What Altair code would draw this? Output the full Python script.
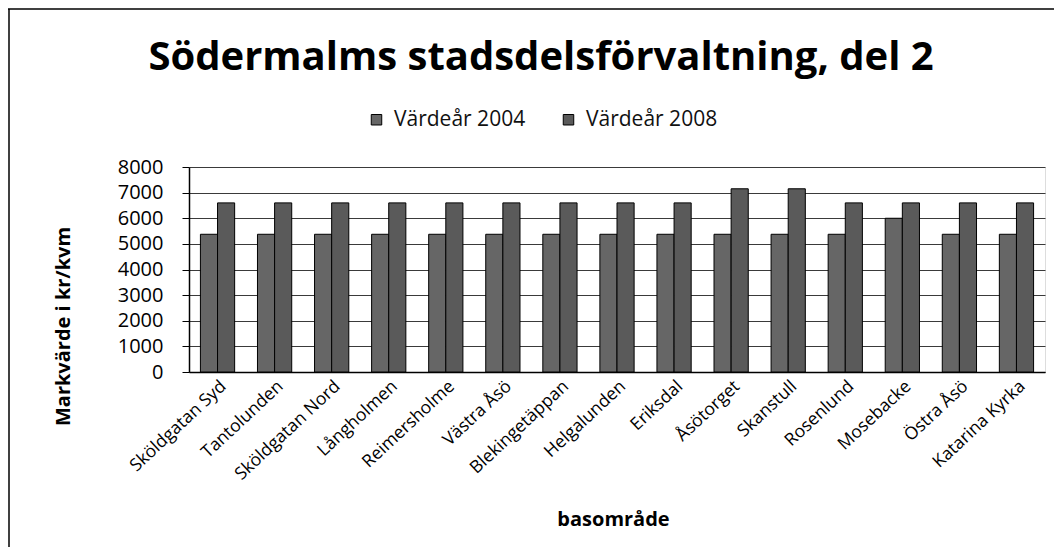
import altair as alt
import pandas as pd

chart_title = "Södermalms stadsdelsförvaltning, del 2"
categories = ["Sköldgatan Syd", "Tantolunden", "Sköldgatan Nord", "Långholmen",
              "Reimersholme", "Västra Åsö", "Blekingetäppan", "Helgalunden",
              "Eriksdal", "Åsötorget", "Skanstull", "Rosenlund", "Mosebacke",
              "Östra Åsö", "Katarina Kyrka"]
series = ["Värdeår 2004", "Värdeår 2008"]
values_2004 = [5375, 5375, 5375, 5375, 5375, 5375, 5375, 5375, 5375, 5375, 5375, 5375, 6000, 5375, 5375]
values_2008 = [6600, 6600, 6600, 6600, 6600, 6600, 6600, 6600, 6600, 7150, 7150, 6600, 6600, 6600, 6600]
y_ticks = [0, 1000, 2000, 3000, 4000, 5000, 6000, 7000, 8000]

rows = []
for c, a, b in zip(categories, values_2004, values_2008):
    rows.append({"område": c, "serie": series[0], "värde": a})
    rows.append({"område": c, "serie": series[1], "värde": b})
df = pd.DataFrame(rows)
title_df = pd.DataFrame({"t": [chart_title]})

FONT = "Open Sans"
W, H = 856, 205

bars = alt.Chart(df).mark_bar(stroke="black", strokeWidth=1).encode(
    x=alt.X("område:N", sort=categories,
            scale=alt.Scale(paddingInner=0.4, paddingOuter=0.2),
            axis=alt.Axis(title="basområde", labelAngle=-43, labelAlign="right",
                          labelBaseline="top", labelFontSize=17.5, labelFont=FONT,
                          labelColor="black", labelPadding=5, ticks=False,
                          domainColor="black", domainWidth=1.5,
                          titleFont=FONT, titleFontSize=20,
                          titleFontWeight="bold", titleColor="black",
                          titleX=424, titleY=147, titleAnchor="middle",
                          titleBaseline="middle", labelLimit=300)),
    xOffset=alt.XOffset("serie:N", sort=series, scale=alt.Scale(paddingInner=0, paddingOuter=0)),
    y=alt.Y("värde:Q", scale=alt.Scale(domain=[0, 8000], nice=False),
            axis=alt.Axis(title="Markvärde  i kr/kvm", values=y_ticks, format="d",
                          labelFontSize=20, labelFont=FONT, labelColor="black",
                          labelPadding=19, tickSize=7, tickColor="black",
                          domainColor="black", domainWidth=1.5,
                          gridColor="#3a3a3a", gridWidth=1.2,
                          titleFont=FONT, titleFontSize=20, titleFontWeight="bold",
                          titleColor="black", titleX=-126, titleY=159,
                          titleAngle=-90, titleBaseline="middle", titleAnchor="middle")),
    color=alt.Color("serie:N", sort=series,
                    scale=alt.Scale(domain=series, range=["#666666", "#5a5a5a"]),
                    legend=alt.Legend(title=None, orient="none", direction="horizontal",
                                      legendX=177, legendY=-58, symbolType="square",
                                      symbolSize=110, symbolStrokeColor="black",
                                      symbolStrokeWidth=1, labelFont=FONT,
                                      labelFontSize=21, labelColor="#111111",
                                      columnPadding=32, labelOffset=7,
                                      labelLimit=300)),
)

title_text = alt.Chart(title_df).mark_text(
    font=FONT, fontSize=40, fontWeight="bold", color="black",
    align="center", baseline="alphabetic").encode(
    text="t:N", x=alt.value(352), y=alt.value(-97))

frame_top = alt.Chart(title_df).mark_rule(color="black", strokeWidth=1.5).encode(
    x=alt.value(-189), x2=alt.value(W + 20), y=alt.value(-158))
frame_left = alt.Chart(title_df).mark_rule(color="black", strokeWidth=1.5).encode(
    x=alt.value(-180), y=alt.value(-158), y2=alt.value(H + 190))

chart = alt.layer(bars, title_text, frame_top, frame_left).properties(
    width=W, height=H,
    autosize=alt.AutoSizeParams(type="none"),
    padding={"left": 181, "top": 159, "right": 9, "bottom": 175},
).configure_view(stroke=None).configure(background="white")

chart.save("out.html", embed_options={"renderer": "svg", "actions": False})
